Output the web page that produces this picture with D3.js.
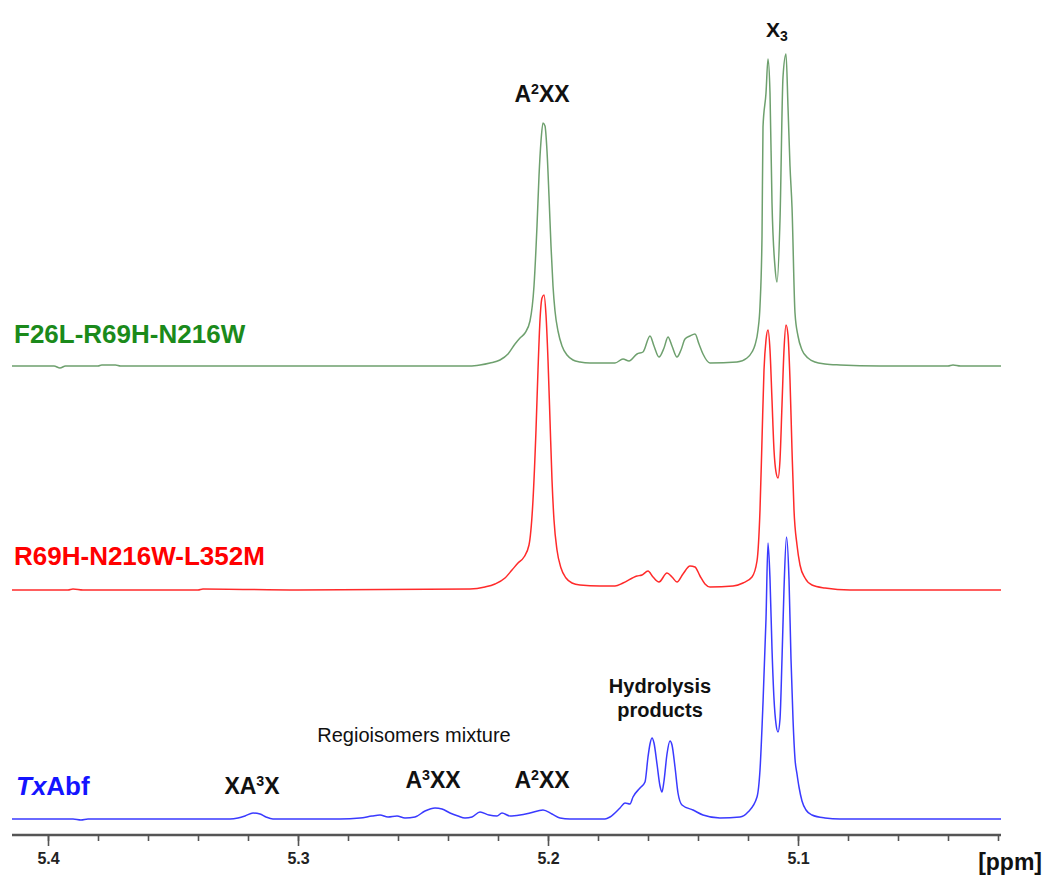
<!DOCTYPE html>
<html>
<head>
<meta charset="utf-8">
<script src="https://cdn.jsdelivr.net/npm/d3@7"></script>
<style>
  body { margin: 0; background: #fff; }
  svg { font-family: Arial, 'Liberation Sans', sans-serif; }
  .trace { fill: none; stroke-width: 1.5; stroke-linejoin: round; }
  .axis path, .axis line { stroke: #555; }
  .axis text { font-size: 16px; font-weight: bold; fill: #222; }
  .ann { font-weight: bold; fill: #111; }
</style>
</head>
<body>
<script>
// spectra: [ppm, intensity above own baseline]
var txabf = [
  [5.4144, 0], [5.39, 0], [5.3868, -1], [5.384, 0], [5.3272, 0], [5.324, 1], [5.3212, 3], [5.318, 6],
  [5.3152, 5], [5.3128, 2], [5.31, 0], [5.2832, 0], [5.2752, 1], [5.2704, 3], [5.2672, 4], [5.264, 2],
  [5.2604, 3], [5.2572, 1], [5.2532, 2], [5.2492, 8], [5.2452, 11], [5.2424, 10], [5.2392, 6], [5.236, 3],
  [5.2332, 1], [5.2304, 2], [5.2272, 7], [5.2236, 4], [5.2204, 3], [5.2184, 6], [5.2152, 3], [5.2112, 4],
  [5.2072, 6], [5.202, 9], [5.1984, 5], [5.1952, 1], [5.1912, 0], [5.1772, 0], [5.1752, 2], [5.1712, 11],
  [5.1692, 16], [5.1672, 15], [5.166, 22], [5.1632, 31], [5.1612, 37], [5.16, 62], [5.1592, 75], [5.1584, 81],
  [5.1576, 76], [5.1564, 55], [5.1552, 33], [5.1544, 27], [5.1536, 38], [5.1524, 65], [5.1512, 78], [5.1504, 74],
  [5.1492, 52], [5.148, 26], [5.1464, 14], [5.142, 9], [5.138, 4], [5.1312, 1], [5.1232, 2], [5.12, 7],
  [5.1164, 22], [5.1152, 49], [5.114, 116], [5.1128, 200], [5.112, 276], [5.1112, 240], [5.1104, 170], [5.1096, 120],
  [5.1088, 95], [5.108, 87], [5.1072, 100], [5.1064, 160], [5.1056, 230], [5.1046, 282], [5.1036, 240], [5.1028, 160],
  [5.102, 100], [5.1012, 60], [5.1004, 45], [5.0996, 32], [5.0984, 18], [5.0968, 9], [5.0944, 4], [5.0892, 1],
  [5.0832, 0], [5.0188, 0]
];

var r69h = [
  [5.4144, 0], [5.392, 0], [5.39, 1], [5.386, 0], [5.34, 0], [5.338, 1], [5.3, 0], [5.2312, 1], [5.2252, 3], [5.2212, 6],
  [5.2172, 12], [5.2144, 20], [5.212, 27], [5.2096, 33], [5.2076, 45], [5.206, 90], [5.2048, 160], [5.204, 220],
  [5.2032, 270], [5.2024, 292], [5.2016, 295], [5.2008, 275], [5.2, 230], [5.1992, 170], [5.1984, 110], [5.1976, 70],
  [5.1964, 40], [5.1948, 22], [5.1928, 12], [5.1904, 7], [5.1872, 5], [5.1792, 4], [5.1732, 4], [5.17, 7],
  [5.1644, 14], [5.1624, 15], [5.16, 19], [5.158, 13], [5.1556, 8], [5.1524, 17], [5.1504, 13], [5.1484, 8],
  [5.146, 16], [5.1432, 24], [5.1412, 23], [5.1392, 14], [5.1372, 6], [5.1352, 3], [5.126, 4], [5.122, 7],
  [5.1184, 13], [5.1164, 29], [5.1152, 80], [5.1144, 150], [5.1136, 220], [5.1128, 250], [5.112, 260], [5.1112, 240],
  [5.1104, 190], [5.1096, 140], [5.1088, 118], [5.108, 112], [5.1072, 130], [5.1064, 185], [5.1056, 240], [5.1048, 265],
  [5.104, 255], [5.1032, 210], [5.1024, 140], [5.1016, 80], [5.1004, 45], [5.0992, 25], [5.0972, 12], [5.0944, 5],
  [5.0892, 2], [5.0792, 0], [5.0188, 0]
];

var f26l = [
  [5.4144, 0], [5.3976, 0], [5.3952, -2], [5.393, 0], [5.38, 0], [5.3785, 1], [5.373, 1], [5.371, 0],
  [5.2312, 0], [5.2272, 1], [5.2232, 3], [5.2192, 6], [5.216, 12], [5.2132, 22], [5.2112, 28], [5.2092, 33],
  [5.2072, 45], [5.2056, 80], [5.2044, 140], [5.2036, 190], [5.2028, 225], [5.202, 243], [5.2012, 240], [5.2004, 215],
  [5.1996, 170], [5.1988, 120], [5.198, 80], [5.1972, 55], [5.196, 35], [5.1944, 20], [5.1924, 11], [5.19, 6],
  [5.1872, 4], [5.1832, 3], [5.1732, 3], [5.17, 7], [5.1676, 5], [5.1644, 12], [5.162, 14], [5.1592, 30],
  [5.1576, 20], [5.1556, 9], [5.1536, 18], [5.152, 29], [5.1504, 20], [5.1484, 9], [5.1468, 16], [5.1452, 27],
  [5.1432, 30], [5.1412, 32], [5.1396, 22], [5.138, 12], [5.1352, 3], [5.1244, 4], [5.1204, 8], [5.1184, 14],
  [5.1172, 21], [5.116, 36], [5.1152, 60], [5.1144, 129], [5.114, 239], [5.1128, 273], [5.112, 307], [5.1112, 273],
  [5.1104, 163], [5.1092, 99], [5.1084, 84], [5.1072, 146], [5.106, 289], [5.1048, 312], [5.104, 259], [5.1032, 200],
  [5.1024, 159], [5.1012, 53], [5.1, 30], [5.0984, 16], [5.096, 8], [5.0932, 4], [5.0892, 2], [5.0832, 1],
  [5.0672, 0], [5.04, 0], [5.038, 1], [5.035, 0], [5.0188, 0]
];

var traceNames = ['TxAbf', 'R69H-N216W-L352M', 'F26L-R69H-N216W'];
var traceOffsets = [0, 229, 453];
var lineColors = ['#3a3aff', '#ff2a2a', '#6ea06e'];
var labelColors = ['#1414ff', '#ff0000', '#1b8a1b'];
var majorTicks = [5.4, 5.3, 5.2, 5.1];
var minorTicks = d3.range(5.02, 5.41, 0.02);

var width = 1046, height = 877;

var svg = d3.select('body').append('svg')
  .attr('width', width)
  .attr('height', height);

var x = d3.scaleLinear().domain([5.4144, 5.0188]).range([12, 1001]);
var y = d3.scaleLinear().domain([0, 800]).range([819, 19]);

// traces
[txabf, r69h, f26l].forEach(function (data, i) {
  var line = d3.line()
    .curve(d3.curveMonotoneX)
    .x(function (d) { return x(d[0]); })
    .y(function (d) { return y(d[1] + traceOffsets[i]); });
  svg.append('path')
    .attr('class', 'trace')
    .attr('d', line(data.slice().reverse()))
    .attr('stroke', lineColors[i]);
});

// axis
var axisG = svg.append('g')
  .attr('class', 'axis')
  .attr('transform', 'translate(0,835)');

axisG.call(d3.axisBottom(x).tickValues(minorTicks).tickSize(6).tickFormat(''))
  .call(function (g) { g.select('.domain').attr('stroke-width', 2.5).attr('d', 'M12,0H1001'); })
  .selectAll('.tick line').attr('stroke-width', 1.6);

axisG.append('g')
  .call(d3.axisBottom(x).tickValues(majorTicks).tickSize(11).tickPadding(7).tickFormat(d3.format('.1f')))
  .call(function (g) { g.select('.domain').remove(); })
  .selectAll('.tick line').attr('stroke-width', 1.6);

svg.append('text')
  .attr('x', 1042).attr('y', 870)
  .attr('text-anchor', 'end')
  .attr('font-size', 23).attr('font-weight', 'bold').attr('fill', '#111')
  .text('[ppm]');

// trace labels
svg.append('text').attr('x', 14).attr('y', 343)
  .attr('font-size', 26).attr('font-weight', 'bold').attr('fill', labelColors[2])
  .text(traceNames[2]);
svg.append('text').attr('x', 14).attr('y', 565)
  .attr('font-size', 26).attr('font-weight', 'bold').attr('fill', labelColors[1])
  .text(traceNames[1]);
var tx = svg.append('text').attr('x', 16).attr('y', 795)
  .attr('font-size', 26).attr('font-weight', 'bold').attr('fill', labelColors[0]);
tx.append('tspan').attr('font-style', 'italic').text('Tx');
tx.append('tspan').text('Abf');

// peak annotations
function supLabel(px, py, before, sup, after, size) {
  var t = svg.append('text').attr('class', 'ann')
    .attr('x', px).attr('y', py)
    .attr('text-anchor', 'middle')
    .attr('font-size', size);
  t.append('tspan').text(before);
  t.append('tspan').attr('font-size', size * 0.62).attr('dy', -size * 0.36).text(sup);
  t.append('tspan').attr('dy', size * 0.36).text(after);
  return t;
}

supLabel(x(5.2024), 102, 'A', '2', 'XX', 23);
supLabel(x(5.3184), 794, 'XA', '3', 'X', 23);
supLabel(x(5.246), 788, 'A', '3', 'XX', 23);
supLabel(x(5.2024), 788, 'A', '2', 'XX', 23);

var x3 = svg.append('text').attr('class', 'ann')
  .attr('x', x(5.1084)).attr('y', 37)
  .attr('text-anchor', 'middle').attr('font-size', 21);
x3.append('tspan').text('X');
x3.append('tspan').attr('font-size', 14).attr('dy', 4).text('3');

svg.append('text')
  .attr('x', x(5.2536)).attr('y', 742)
  .attr('text-anchor', 'middle')
  .attr('font-size', 20).attr('fill', '#111')
  .text('Regioisomers mixture');

svg.append('text').attr('class', 'ann')
  .attr('x', x(5.1552)).attr('y', 693)
  .attr('text-anchor', 'middle').attr('font-size', 20)
  .text('Hydrolysis');
svg.append('text').attr('class', 'ann')
  .attr('x', x(5.1552)).attr('y', 717)
  .attr('text-anchor', 'middle').attr('font-size', 20)
  .text('products');
</script>
</body>
</html>
